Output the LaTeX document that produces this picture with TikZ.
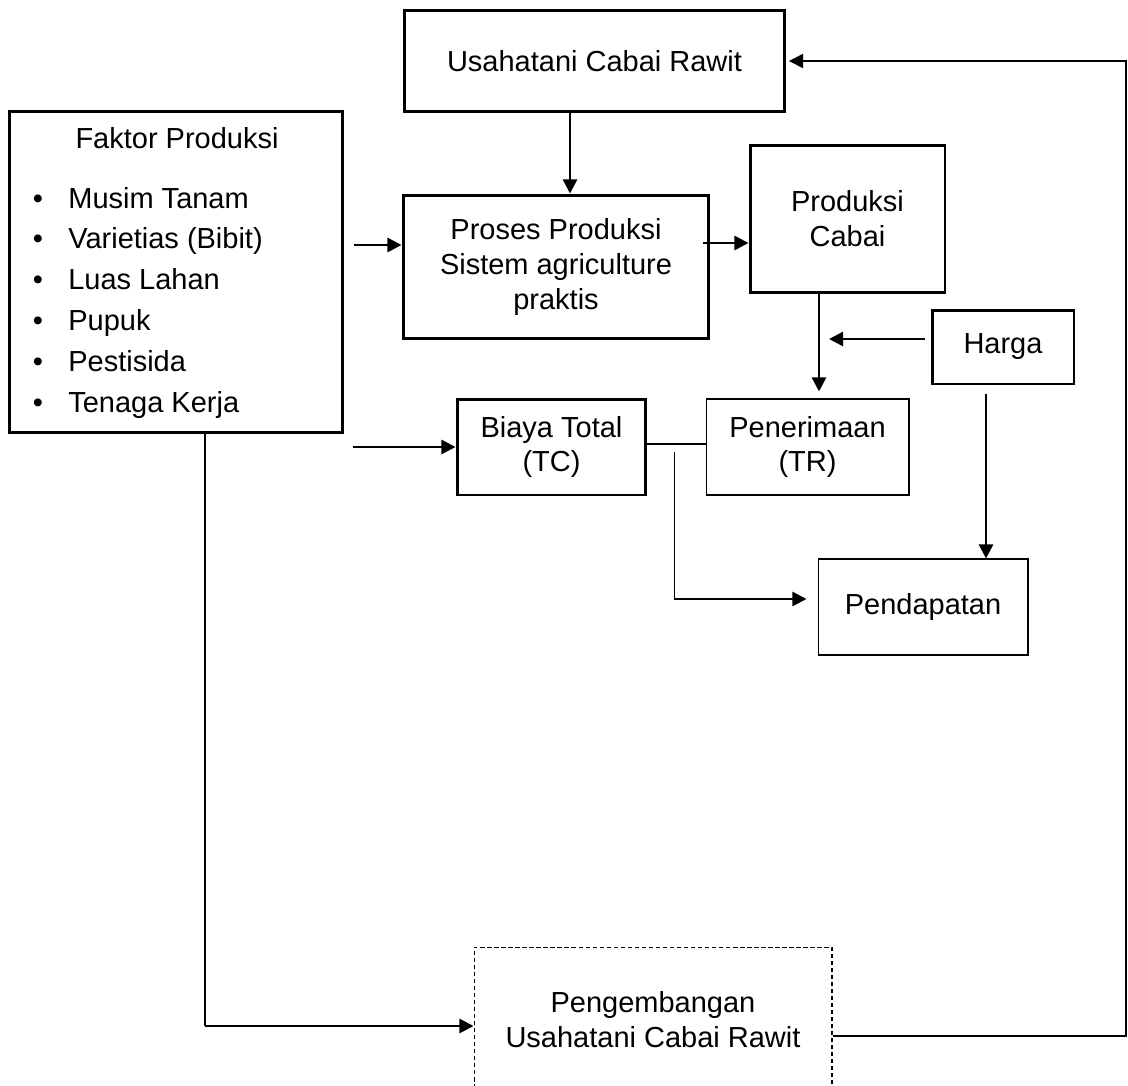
\documentclass[tikz,border=0pt]{standalone}
\usepackage{fontspec}
\setmainfont{Liberation Sans}
\usetikzlibrary{arrows.meta}

\tikzset{
    box/.style={draw, line width=1.7pt, align=center, inner sep=0pt},
    thinbox/.style={draw, line width=0.6pt, align=center, inner sep=0pt},
    arr/.style={line width=1.4pt, -{Triangle[length=8pt, width=8pt]}},
    thinline/.style={line width=0.6pt},
}

\begin{document}
\begin{tikzpicture}[x=0.02cm, y=-0.02cm, font=\fontsize{16.5}{19.8}\selectfont]
    \useasboundingbox (0, 0) rectangle (1128, 1085);

    \node[box, minimum width=7.6cm, minimum height=2.04cm] (usaha) at (594.5, 61) {Usahatani Cabai Rawit};

    \node[box, minimum width=6.68cm, minimum height=6.44cm] (faktor) at (176, 272) {};
    \node (faktor-title) at (177, 138) {Faktor Produksi};
    \foreach \faktoritem [count=\i] in {Musim Tanam, Varietias (Bibit), Luas Lahan, Pupuk, Pestisida, Tenaga Kerja} {
        \node[anchor=base, inner sep=0pt] (dot-\i) at (38, 167.2 + 40.8*\i) {\textbullet};
        \node[anchor=base west, inner sep=0pt] (item-\i) at (68, 167.2 + 40.8*\i) {\faktoritem};
    }

    \node[box, minimum width=6.12cm, minimum height=2.88cm] (proses) at (556, 267) {Proses Produksi\\Sistem agriculture\\praktis};
    \node[box, minimum width=3.9cm, minimum height=2.96cm] (produksi) at (847.5, 219) {Produksi\\Cabai};
    \node[box, minimum width=2.84cm, minimum height=1.48cm] (harga) at (1003, 347) {Harga};
    \node[box, minimum width=3.78cm, minimum height=1.92cm] (biaya) at (551.5, 447) {Biaya Total\\(TC)};
    \node[thinbox, minimum width=4.06cm, minimum height=1.92cm] (terima) at (807.5, 447) {Penerimaan\\(TR)};
    \node[thinbox, minimum width=4.2cm, minimum height=1.92cm] (dapat) at (923, 607) {Pendapatan};
    \node[thinbox, dash pattern=on 2.5pt off 1.5pt, minimum width=7.16cm, minimum height=2.9cm] (kembang) at (653, 1019.5) {Pengembangan\\Usahatani Cabai Rawit};

    \draw[arr] ([xshift=-0.49cm]usaha.south) -- ([xshift=-0.49cm]usaha.south |- proses.north);
    \draw[arr] ([xshift=0.2cm, yshift=0.44cm]faktor.east |- proses.west) -- ([yshift=0.44cm]proses.west);
    \draw[arr] ([xshift=-0.14cm, yshift=0.48cm]proses.east) -- ([yshift=0.48cm]proses.east -| produksi.west);
    \draw[arr, shorten >=0.14cm] ([xshift=-0.57cm]produksi.south) -- ([xshift=-0.57cm]produksi.south |- terima.north);
    \draw[arr] ([xshift=-0.12cm, yshift=0.16cm]harga.west) -- ([xshift=-0.37cm, yshift=0.16cm]produksi.south |- harga.west);
    \draw[arr] ([xshift=-0.34cm, yshift=-0.18cm]harga.south) -- ([xshift=-0.34cm]harga.south |- dapat.north);
    \draw[arr] ([xshift=0.18cm]faktor.east |- biaya.west) -- (biaya.west);
    \draw[thinline] ([yshift=0.06cm]biaya.east) -- ([yshift=0.06cm]terima.west);

    \coordinate (tc-bend) at ([xshift=0.54cm, yshift=0.16cm]biaya.east |- dapat.west);
    \draw[thinline] ([xshift=0.54cm, yshift=-0.1cm]biaya.east) -- (tc-bend);
    \draw[arr] (tc-bend) -- ([xshift=-0.22cm]tc-bend -| dapat.west);

    \coordinate (fk-bend) at ([xshift=0.58cm, yshift=-0.13cm]faktor.south |- kembang.west);
    \draw[thinline] ([xshift=0.58cm]faktor.south) -- (fk-bend);
    \draw[arr] (fk-bend) -- ([yshift=-0.13cm]kembang.west);

    \coordinate (loop-right) at (1126, 1036);
    \draw[arr, line width=0.9pt] ([yshift=-0.33cm]kembang.east) -- ([yshift=-0.33cm]kembang.east -| loop-right) -- (loop-right |- usaha.east) -- ([xshift=0.06cm]usaha.east);
\end{tikzpicture}
\end{document}
